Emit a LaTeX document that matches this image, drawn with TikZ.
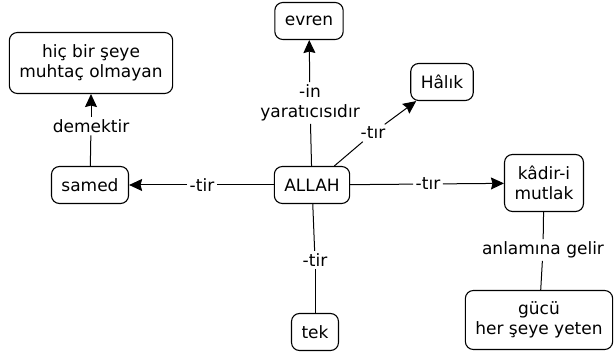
\documentclass[tikz,border=0pt]{standalone}
\usepackage{fontspec}
\setmainfont{DejaVu Sans}
\usepackage{tikz}
\usetikzlibrary{arrows.meta}

\begin{document}
\begin{tikzpicture}[x=1pt,y=-1pt]

\tikzset{concept/.style={draw, rounded corners=8pt, line width=1.1pt, align=center,
           inner xsep=10pt, inner ysep=3pt, minimum height=37pt,
           font=\fontsize{17}{20}\selectfont},
         linking/.style={inner sep=2.5pt, align=center, font=\fontsize{17}{20}\selectfont},
         link/.style={line width=1pt},
         tip/.style={-{Stealth[length=13pt,width=12pt,inset=1.5pt]}}}

\useasboundingbox (0,0) rectangle (616,355);

% concepts
\node[concept] (allah) at (312,185) {ALLAH};
\node[concept] (evren) at (309,21) {evren};
\node[concept] (halik) at (442,82) {Hâlık};
\node[concept, minimum height=57pt] (kadir) at (544,183) {kâdir-i\\mutlak};
\node[concept, minimum height=59pt] (gucu) at (539,320) {gücü\\her şeye yeten};
\node[concept] (tek) at (315,332) {tek};
\node[concept] (samed) at (90,185) {samed};
\node[concept, minimum height=61pt] (hicbir) at (91,63) {hiç bir şeye\\muhtaç olmayan};

% linking phrases
\node[linking] (lyarat) at (310,103) {-in\\yaratıcısıdır};
\node[linking] (lhalik) at (373,133) {-tır};
\node[linking] (lkadir) at (428,184) {-tır};
\node[linking] (ltek) at (315,260) {-tir};
\node[linking] (lsamed) at (202,185) {-tir};
\node[linking] (ldemek) at (91,126) {demektir};
\node[linking] (lanlam) at (543,250) {anlamına gelir};

% connectors
\draw[link] (allah) -- (lyarat);
\draw[link, tip] (lyarat) -- (evren);
\draw[link] (allah) -- (lhalik);
\draw[link, tip] (lhalik) -- (halik);
\draw[link] (allah) -- (lkadir);
\draw[link, tip] (lkadir) -- (kadir);
\draw[link] (allah) -- (ltek);
\draw[link] (ltek) -- (tek);
\draw[link] (allah) -- (lsamed);
\draw[link, tip] (lsamed) -- (samed);
\draw[link] (samed) -- (ldemek);
\draw[link, tip] (ldemek) -- (hicbir);
\draw[link] (kadir) -- (lanlam);
\draw[link] (lanlam) -- (gucu);

\end{tikzpicture}
\end{document}
